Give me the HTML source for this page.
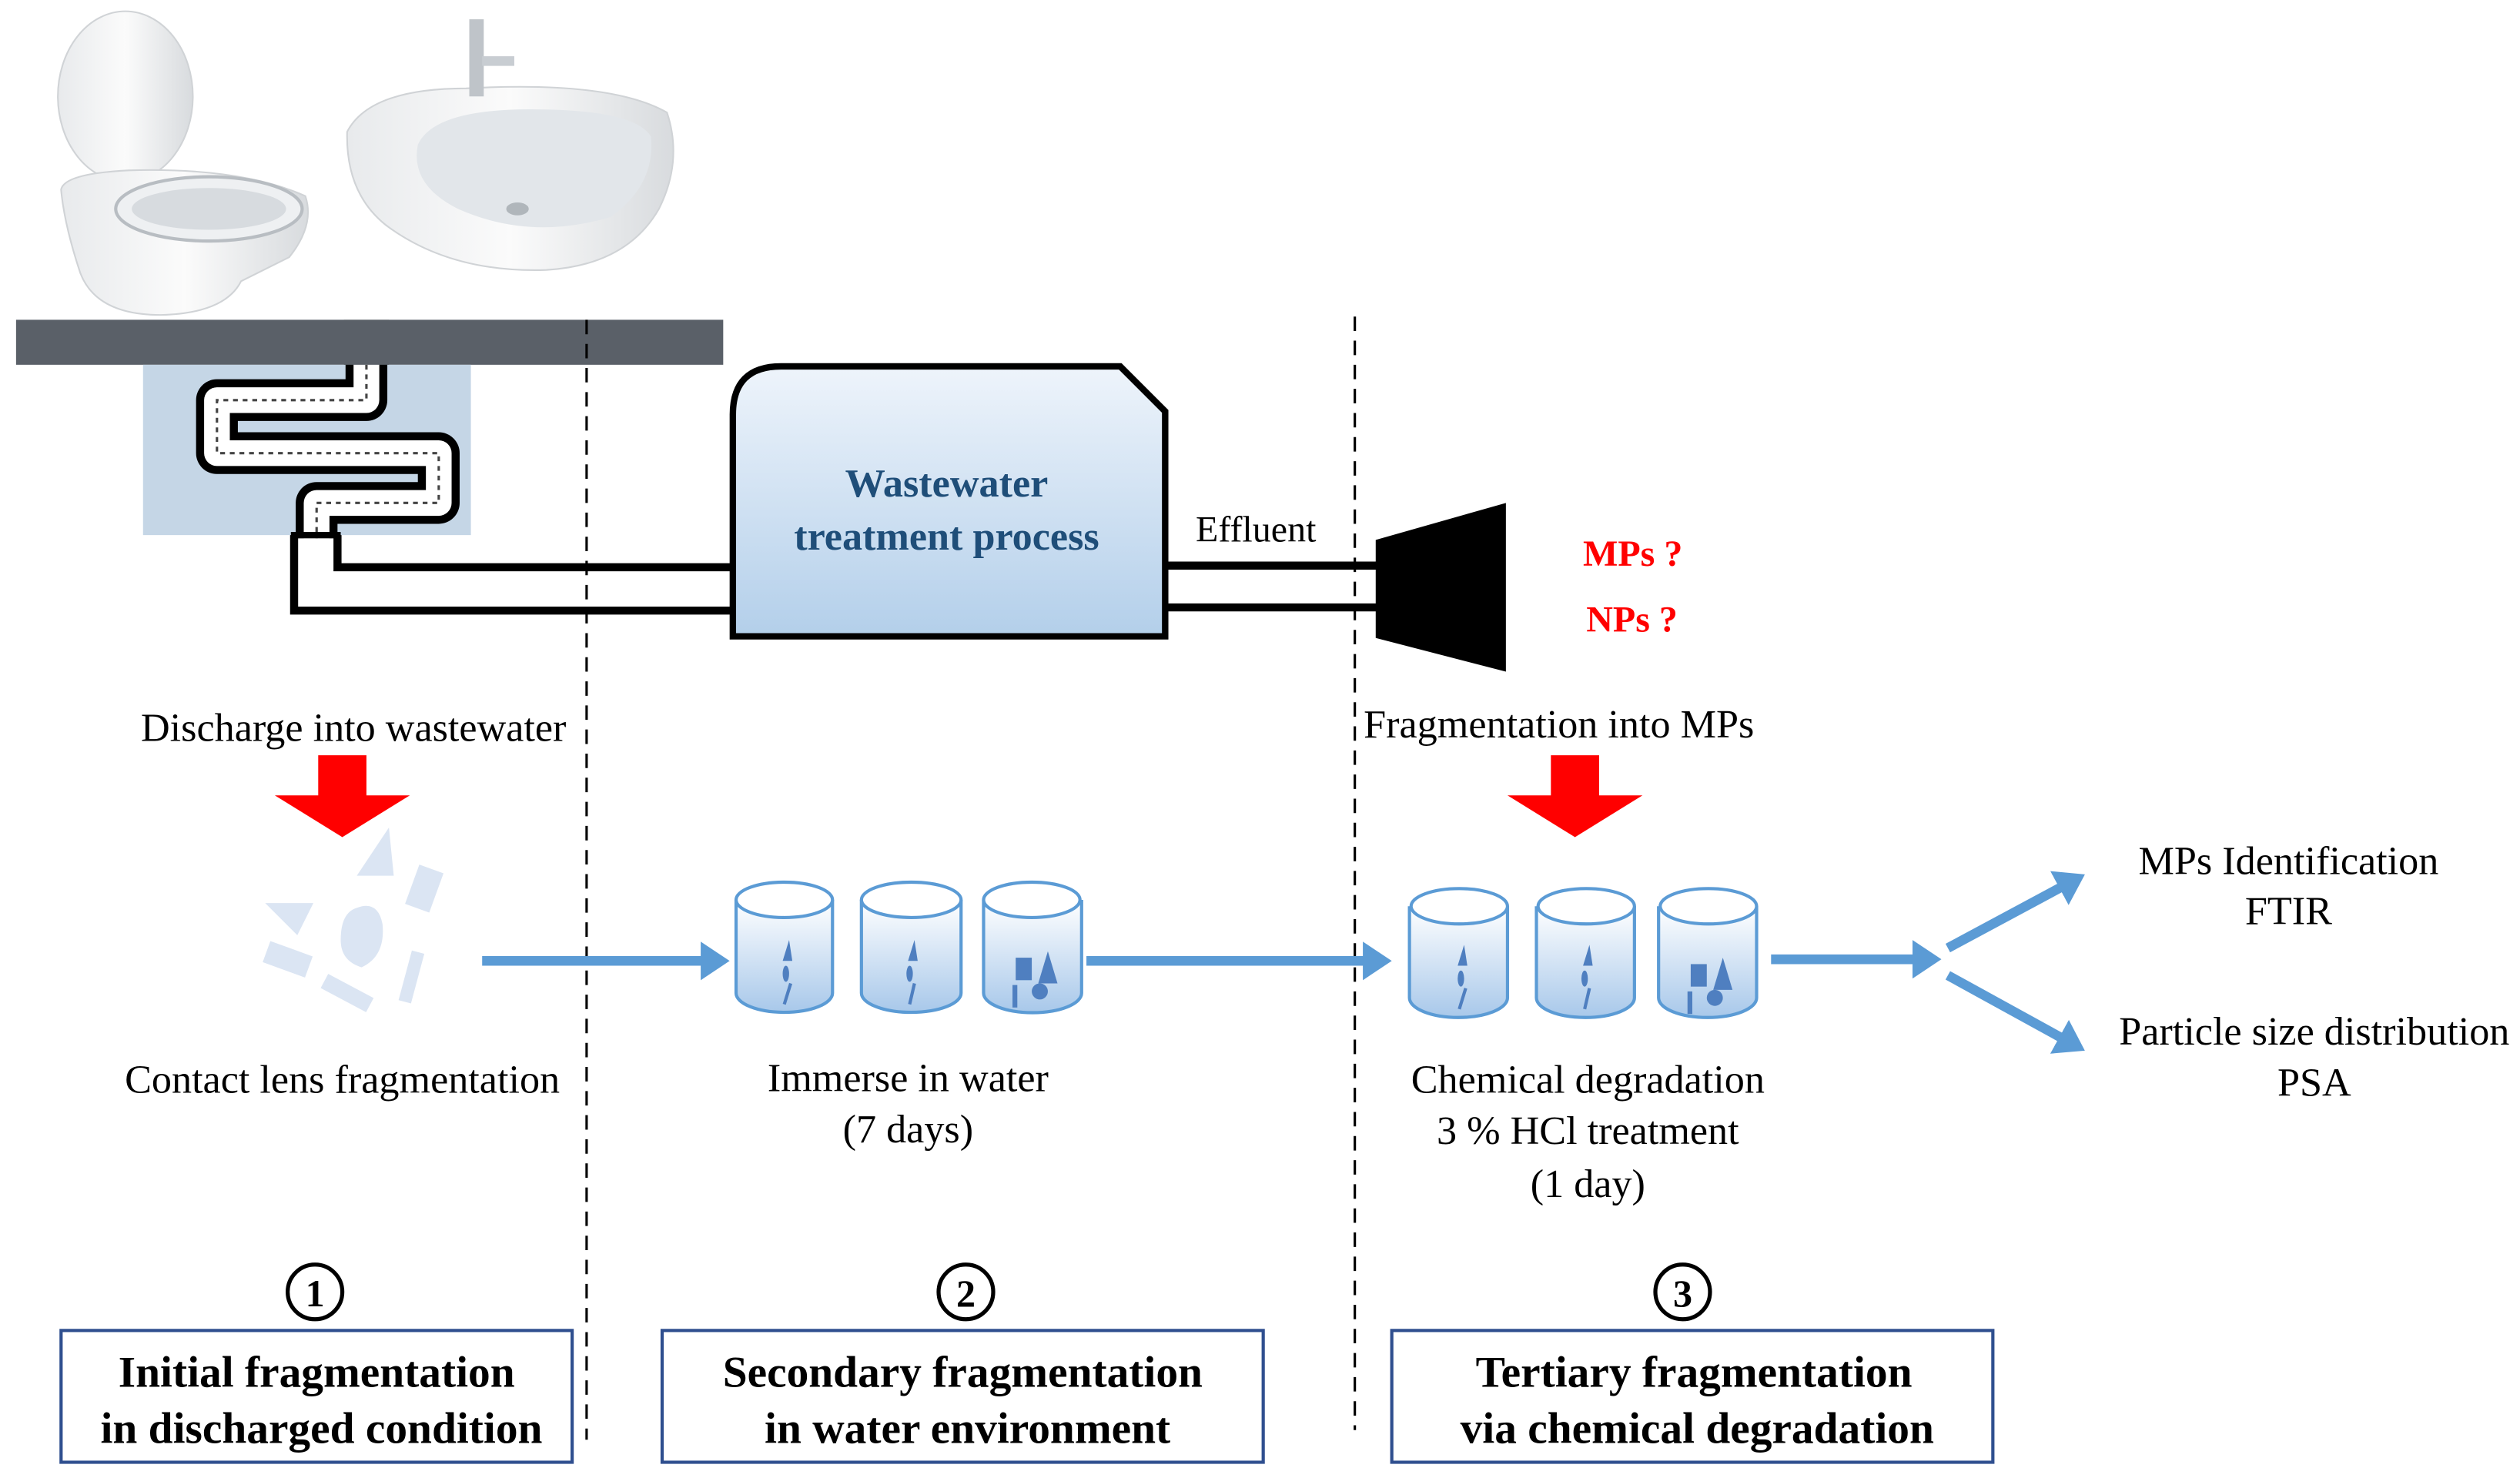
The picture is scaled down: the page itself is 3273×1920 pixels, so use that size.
<!DOCTYPE html>
<html><head><meta charset="utf-8"><style>
html,body{margin:0;padding:0;background:#fff;}
svg{display:block;}
text{font-family:"Liberation Serif",serif;}
</style></head><body>
<svg width="3273" height="1920" viewBox="0 0 1568 919.8" xmlns="http://www.w3.org/2000/svg">
<defs>
<linearGradient id="wg" x1="0" y1="0" x2="0" y2="1"><stop offset="0" stop-color="#eef4fb"/><stop offset="1" stop-color="#b3cfea"/></linearGradient>
<linearGradient id="cg" x1="0" y1="0" x2="0" y2="1"><stop offset="0" stop-color="#ffffff"/><stop offset="1" stop-color="#a8c8ea"/></linearGradient>
<linearGradient id="tg" x1="0" y1="0" x2="1" y2="0"><stop offset="0" stop-color="#e8eaec"/><stop offset="0.5" stop-color="#fbfbfb"/><stop offset="1" stop-color="#d8dbde"/></linearGradient>
<marker id="ah" markerWidth="4" markerHeight="4" refX="2" refY="2" orient="auto" markerUnits="strokeWidth"><path d="M0,0 L3,2 L0,4 z" fill="#5b9bd5"/></marker>
</defs>
<!-- toilet -->
<ellipse cx="78" cy="60" rx="42" ry="53" fill="url(#tg)" stroke="#d0d3d6"/>
<path d="M38,118 Q40,108 80,106 Q150,104 190,122 Q196,140 180,160 L150,175 Q140,195 100,196 Q60,196 50,170 Q40,140 38,118z" fill="url(#tg)" stroke="#d0d3d6"/>
<ellipse cx="130" cy="130" rx="58" ry="20" fill="#eef0f2" stroke="#b8bdc2" stroke-width="2"/>
<ellipse cx="130" cy="130" rx="48" ry="13" fill="#d7dbdf"/>
<!-- sink -->
<path d="M216,82 Q230,55 290,55 Q380,50 415,70 Q425,100 410,130 Q390,165 340,168 Q280,170 240,140 Q215,120 216,82z" fill="url(#tg)" stroke="#d0d3d6"/>
<path d="M260,90 Q270,68 330,68 Q395,68 405,85 Q408,115 380,135 Q330,150 285,130 Q255,115 260,90z" fill="#e2e6ea"/>
<rect x="292" y="12" width="9" height="48" fill="#bfc4c9"/><rect x="300" y="35" width="20" height="6" fill="#c8cdd2"/>
<ellipse cx="322" cy="130" rx="7" ry="4" fill="#b0b6bb"/>
<!-- gray bar & light box -->
<rect x="10" y="199" width="440" height="28" fill="#5a6068"/>
<rect x="89" y="227" width="204" height="106" fill="#c5d6e6"/>
<!-- serpentine -->
<path d="M228,222 L228,249 L135,249 L135,282 L273,282 L273,313 L197,313 L197,335" fill="none" stroke="#000" stroke-width="26" stroke-linejoin="round"/>
<path d="M228,222 L228,249 L135,249 L135,282 L273,282 L273,313 L197,313 L197,335" fill="none" stroke="#fff" stroke-width="16" stroke-linejoin="round"/>
<rect x="214" y="199" width="28" height="28" fill="#5a6068"/>
<path d="M228,227 L228,249 L135,249 L135,282 L273,282 L273,313 L197,313 L197,335" fill="none" stroke="#444" stroke-width="1.5" stroke-dasharray="3 3"/>
<!-- pipes -->
<path d="M210,333 L210,353 L458,353" fill="none" stroke="#000" stroke-width="5"/>
<path d="M183,333 L183,380 L458,380" fill="none" stroke="#000" stroke-width="5"/>
<line x1="181" y1="333" x2="212" y2="333" stroke="#000" stroke-width="4"/>
<!-- dashed lines -->
<line x1="365" y1="199" x2="365" y2="896" stroke="#000" stroke-width="1.5" stroke-dasharray="9 6"/>
<line x1="843" y1="197" x2="843" y2="890" stroke="#000" stroke-width="1.5" stroke-dasharray="9 6"/>
<!-- WWTP -->
<path d="M456,396 L456,258 Q456,228 486,228 L697,228 L725,256 L725,396 Z" fill="url(#wg)" stroke="#000" stroke-width="4"/>
<text x="589" y="309" text-anchor="middle" font-size="25" font-weight="bold" fill="#1f4e79">Wastewater</text>
<text x="589" y="342" text-anchor="middle" font-size="25" font-weight="bold" fill="#1f4e79">treatment process</text>
<line x1="725" y1="352" x2="858" y2="352" stroke="#000" stroke-width="5"/>
<line x1="725" y1="378" x2="858" y2="378" stroke="#000" stroke-width="5"/>
<text x="744" y="337" font-size="23">Effluent</text>
<polygon points="856,336 937,313 937,418 856,397" fill="#000"/>
<text x="985" y="352" font-size="23" font-weight="bold" fill="#ff0000">MPs ?</text>
<text x="987" y="393" font-size="23" font-weight="bold" fill="#ff0000">NPs ?</text>
<!-- labels -->
<text x="220" y="461" text-anchor="middle" font-size="25">Discharge into wastewater</text>
<text x="970" y="459" text-anchor="middle" font-size="25">Fragmentation into MPs</text>
<polygon points="198,470 228,470 228,495 255,495 213,521 171,495 198,495" fill="#ff0000"/>
<polygon points="965,470 995,470 995,495 1022,495 980,521 938,495 965,495" fill="#ff0000"/>
<!-- lens fragments -->
<g fill="#dbe5f3">
<polygon points="242,515 245,545 222,545"/>
<polygon points="165,562 195,562 185,582"/>
<rect x="256" y="540" width="16" height="26" transform="rotate(20 264 553)"/>
<path d="M222,565 Q235,560 238,575 Q240,595 225,602 Q212,598 212,585 Q212,568 222,565z"/>
<rect x="165" y="590" width="28" height="14" transform="rotate(20 179 597)"/>
<rect x="252" y="592" width="8" height="32" transform="rotate(15 256 608)"/>
<rect x="200" y="613" width="32" height="10" transform="rotate(28 216 618)"/>
</g>
<!-- arrows -->
<line x1="300" y1="598" x2="448" y2="598" stroke="#5b9bd5" stroke-width="6" marker-end="url(#ah)"/>
<line x1="676" y1="598" x2="860" y2="598" stroke="#5b9bd5" stroke-width="6" marker-end="url(#ah)"/>
<line x1="1102" y1="597" x2="1202" y2="597" stroke="#5b9bd5" stroke-width="6" marker-end="url(#ah)"/>
<line x1="1212" y1="590" x2="1292" y2="547" stroke="#5b9bd5" stroke-width="6" marker-end="url(#ah)"/>
<line x1="1212" y1="607" x2="1292" y2="651" stroke="#5b9bd5" stroke-width="6" marker-end="url(#ah)"/>
<!-- cylinders -->
<g stroke="#5b9bd5" stroke-width="2">
<g><path d="M458,560 L458,618 A30,12 0 0 0 518,618 L518,560" fill="url(#cg)"/><ellipse cx="488" cy="560" rx="30" ry="11" fill="#fff"/></g>
<g><path d="M536,560 L536,618 A31,12 0 0 0 598,618 L598,560" fill="url(#cg)"/><ellipse cx="567" cy="560" rx="31" ry="11" fill="#fff"/></g>
<g><path d="M612,560 L612,618 A30,12 0 0 0 673,618 L673,560" fill="url(#cg)"/><ellipse cx="642" cy="560" rx="30" ry="11" fill="#fff"/></g>
<g><path d="M877,564 L877,621 A30,12 0 0 0 938,621 L938,564" fill="url(#cg)"/><ellipse cx="908" cy="564" rx="30" ry="11" fill="#fff"/></g>
<g><path d="M956,564 L956,621 A30,12 0 0 0 1017,621 L1017,564" fill="url(#cg)"/><ellipse cx="987" cy="564" rx="30" ry="11" fill="#fff"/></g>
<g><path d="M1032,564 L1032,621 A30,12 0 0 0 1093,621 L1093,564" fill="url(#cg)"/><ellipse cx="1063" cy="564" rx="30" ry="11" fill="#fff"/></g>
</g>
<g fill="#4f7fc0">
<polygon points="491,585 493,598 487,598"/><ellipse cx="489" cy="606" rx="2" ry="5"/><line x1="492" y1="612" x2="488" y2="625" stroke="#4f7fc0" stroke-width="2"/>
<polygon points="569,585 571,598 565,598"/><ellipse cx="566" cy="606" rx="2" ry="5"/><line x1="569" y1="612" x2="566" y2="625" stroke="#4f7fc0" stroke-width="2"/>
<rect x="632" y="596" width="10" height="14"/><polygon points="652,592 658,612 646,612"/><circle cx="647" cy="617" r="5"/><rect x="630" y="613" width="3" height="14"/>
<polygon points="911,588 913,601 907,601"/><ellipse cx="909" cy="609" rx="2" ry="5"/><line x1="912" y1="615" x2="908" y2="628" stroke="#4f7fc0" stroke-width="2"/>
<polygon points="989,588 991,601 985,601"/><ellipse cx="986" cy="609" rx="2" ry="5"/><line x1="989" y1="615" x2="986" y2="628" stroke="#4f7fc0" stroke-width="2"/>
<rect x="1052" y="600" width="10" height="14"/><polygon points="1072,596 1078,616 1066,616"/><circle cx="1067" cy="621" r="5"/><rect x="1050" y="617" width="3" height="14"/>
</g>
<!-- step texts -->
<g font-size="25" text-anchor="middle">
<text x="213" y="680">Contact lens fragmentation</text>
<text x="565" y="679">Immerse in water</text>
<text x="565" y="711">(7 days)</text>
<text x="988" y="680">Chemical degradation</text>
<text x="988" y="712">3 % HCl treatment</text>
<text x="988" y="745">(1 day)</text>
<text x="1424" y="544">MPs Identification</text>
<text x="1424" y="575">FTIR</text>
<text x="1440" y="650">Particle size distribution</text>
<text x="1440" y="682">PSA</text>
</g>
<!-- circled numbers -->
<g fill="none" stroke="#000" stroke-width="2.5">
<circle cx="196" cy="804" r="17"/><circle cx="601" cy="804" r="17"/><circle cx="1047" cy="804" r="17"/>
</g>
<g font-size="24" font-weight="bold" text-anchor="middle">
<text x="196" y="813">1</text><text x="601" y="813">2</text><text x="1047" y="813">3</text>
</g>
<!-- boxes -->
<g fill="#fff" stroke="#2f4f8f" stroke-width="2">
<rect x="38" y="828" width="318" height="82"/>
<rect x="412" y="828" width="374" height="82"/>
<rect x="866" y="828" width="374" height="82"/>
</g>
<g font-size="27.5" font-weight="bold" text-anchor="middle">
<text x="197" y="863">Initial fragmentation</text>
<text x="200" y="898">in discharged condition</text>
<text x="599" y="863">Secondary fragmentation</text>
<text x="602" y="898">in water environment</text>
<text x="1054" y="863">Tertiary fragmentation</text>
<text x="1056" y="898">via chemical degradation</text>
</g>
</svg>
</body></html>
